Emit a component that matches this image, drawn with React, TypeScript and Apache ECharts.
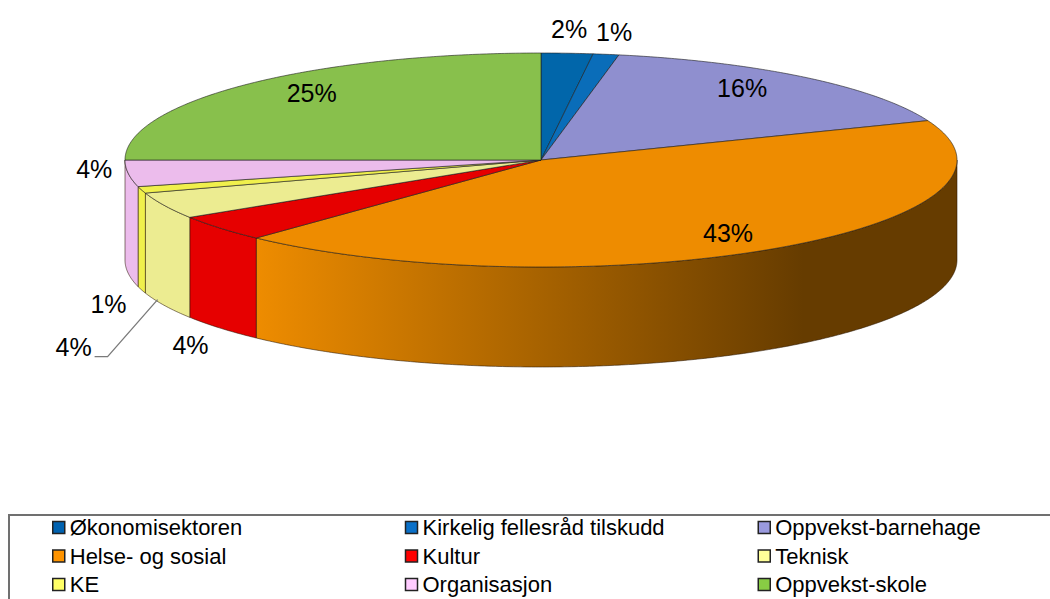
import { useEffect, useRef } from 'react';
import * as echarts from 'echarts';

// ---- data ----
const categories = [
  'Økonomisektoren',
  'Kirkelig fellesråd tilskudd',
  'Oppvekst-barnehage',
  'Helse- og sosial',
  'Kultur',
  'Teknisk',
  'KE',
  'Organisasjon',
  'Oppvekst-skole',
];
const shares = [2, 1, 16, 43, 4, 4, 1, 4, 25];

// ---- styles ----
const topColors = ['#0166aa', '#0a6db9', '#8f8fcf', '#ee8c00', '#e60000', '#ecec91', '#f0f04c', '#ecbcec', '#88c04c'];
const legendColors = ['#0062b0', '#0a70c8', '#9a9ade', '#ff9400', '#ff0000', '#ffff99', '#ffff66', '#ffccff', '#88cc44'];

// label placement relative to the slice geometry (anchor + nudge)
const labelPlacement = [
  { anchor: 'top', dx: 2, dy: -24 },
  { anchor: 'top', dx: 8, dy: -22 },
  { anchor: 'inside', dx: -11, dy: -6 },
  { anchor: 'inside', dx: 0, dy: 2 },
  { anchor: 'bottom', dx: -30, dy: 17 },
  { anchor: 'bottom', dx: -91, dy: 41, leader: true },
  { anchor: 'bottom', dx: -33, dy: 14 },
  { anchor: 'top', dx: -34, dy: -4 },
  { anchor: 'inside', dx: 6, dy: -6 },
];

const PIE = { cxRatio: 541 / 1050, cy: 160, rx: 416, ry: 107, depth: 100 };
const SHADE = { fullAtSin: -0.685, darkAtSin: 0.63, darkFactor: 0.43 };
const FONT = '"Liberation Sans", Arial, sans-serif';

const total = shares.reduce((a, b) => a + b, 0);
const startFrac: number[] = [];
{
  let acc = 0;
  for (const v of shares) {
    startFrac.push(acc / total);
    acc += v;
  }
}

function shade(hex: string, f: number) {
  const n = parseInt(hex.slice(1), 16);
  const r = (n >> 16) & 255, g = (n >> 8) & 255, b = n & 255;
  return `rgb(${Math.round(r * f)},${Math.round(g * f)},${Math.round(b * f)})`;
}

const makeRenderItem = (i: number) => (params: any, api: any) => {
  const W = api.getWidth();
  const cx = W * PIE.cxRatio;
  const { cy, rx, ry, depth } = PIE;
  const v = api.value(0);
  const a0 = startFrac[i] * Math.PI * 2;
  const a1 = a0 + (v / total) * Math.PI * 2;
  const P = (t: number, r = 1, dy = 0) => [cx + rx * r * Math.sin(t), cy - ry * r * Math.cos(t) + dy];
  const arc = (s: number, e: number, dy = 0) => {
    const n = Math.max(2, Math.ceil((e - s) / (Math.PI / 360)));
    const pts: number[][] = [];
    for (let k = 0; k <= n; k++) pts.push(P(s + ((e - s) * k) / n, 1, dy));
    return pts;
  };
  const children: any[] = [];

  // front wall
  const w0 = Math.max(a0, Math.PI / 2);
  const w1 = Math.min(a1, (Math.PI * 3) / 2);
  if (w1 > w0) {
    const top = arc(w0, w1);
    const bot = arc(w0, w1, depth).reverse();
    const base = topColors[i];
    const dark = shade(base, SHADE.darkFactor);
    const oA = (SHADE.fullAtSin + 1) / 2;
    const oB = (SHADE.darkAtSin + 1) / 2;
    const fill = new echarts.graphic.LinearGradient(
      cx - rx, 0, cx + rx, 0,
      [
        { offset: 0, color: shade(base, 1) },
        { offset: oA, color: shade(base, 1) },
        { offset: oB, color: dark },
        { offset: 1, color: dark },
      ],
      true
    );
    children.push({
      type: 'polygon',
      z2: 1,
      shape: { points: top.concat(bot) },
      style: { fill, stroke: 'rgba(40,20,0,0.55)', lineWidth: 1 },
    });
  }

  // top face
  children.push({
    type: 'polygon',
    z2: 5,
    shape: { points: [[cx, cy], ...arc(a0, a1)] },
    style: { fill: topColors[i], stroke: 'rgba(30,30,30,0.6)', lineWidth: 1 },
  });

  // label
  const L: any = labelPlacement[i];
  const mid = (a0 + a1) / 2;
  const anchor = L.anchor === 'inside' ? P(mid, 0.8) : L.anchor === 'bottom' ? P(mid, 1, depth) : P(mid);
  const lx = anchor[0] + L.dx;
  const ly = anchor[1] + L.dy;
  children.push({
    type: 'text',
    z2: 10,
    x: lx,
    y: ly,
    style: {
      text: `${v}%`,
      fill: '#000',
      fontSize: 25,
      fontFamily: FONT,
      align: 'center',
      verticalAlign: 'middle',
    },
  });
  if (L.leader) {
    children.push({
      type: 'polyline',
      z2: 9,
      shape: { points: [[anchor[0] - 7, anchor[1] - 6], [lx + 34, ly + 10], [lx + 21, ly + 10]] },
      style: { stroke: '#7a7a7a', lineWidth: 1.3, fill: null },
    });
  }
  return { type: 'group', children };
};

export default function App() {
  const ref = useRef<HTMLDivElement>(null);
  useEffect(() => {
    if (!ref.current) return;
    const chart = echarts.init(ref.current, undefined, { renderer: 'svg' });
    chart.setOption({
      animation: false,
      backgroundColor: '#ffffff',
      legend: {
        left: 9,
        top: 515,
        width: 1110,
        orient: 'horizontal',
        padding: [1, 0, 10, 43],
        itemGap: 5.5,
        itemWidth: 12,
        itemHeight: 12,
        icon: 'rect',
        borderColor: '#707070',
        borderWidth: 2,
        selectedMode: false,
        data: categories.map((name, i) => ({
          name,
          itemStyle: { color: legendColors[i], borderColor: '#222', borderWidth: 1.5 },
        })),
        textStyle: {
          fontSize: 22,
          fontFamily: FONT,
          color: '#000',
          width: 329.5,
          overflow: 'truncate',
          lineHeight: 23,
        },
      },
      series: categories.map((name, i) => ({
        type: 'custom',
        name,
        coordinateSystem: 'none',
        silent: true,
        itemStyle: { color: topColors[i] },
        data: [shares[i]],
        renderItem: makeRenderItem(i),
      })),
    });
    return () => chart.dispose();
  }, []);
  return (
    <div
      ref={ref}
      style={{ position: 'fixed', left: 0, top: 0, width: 1050, height: 599, background: '#fff' }}
    />
  );
}
